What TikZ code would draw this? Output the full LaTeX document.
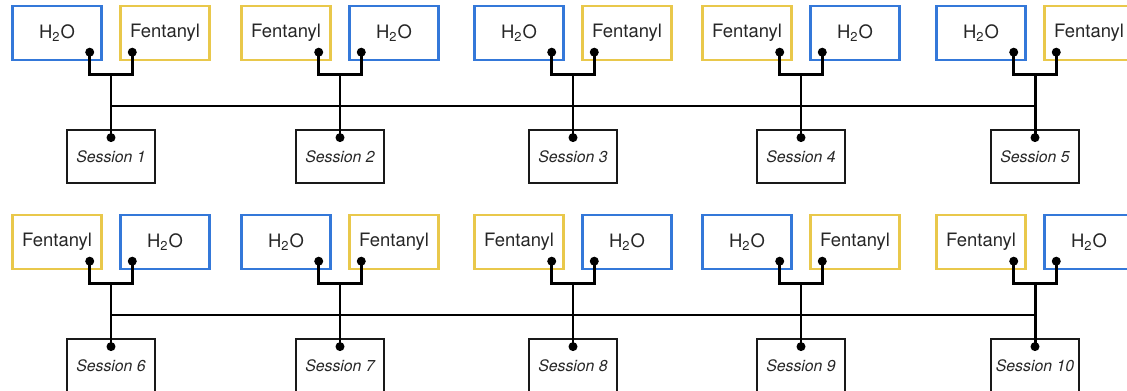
\documentclass[tikz,border=0pt]{standalone}
\usepackage{fontspec}
\setmainfont{TeX Gyre Heros}
\definecolor{h2oblue}{RGB}{52,120,217}
\definecolor{fentyellow}{RGB}{233,200,75}
\newcommand\wat{H\textsubscript{2}O}
\newcommand\fen{Fentanyl}
\begin{document}
\begin{tikzpicture}[x=0.02cm, y=0.02cm, line join=miter,
	drug/.style={draw, line width=1.4pt, minimum width=1.78cm, minimum height=1.08cm, inner sep=0pt, text=black!85, font=\fontsize{10.5}{12}\selectfont},
	h2o/.style={drug, draw=h2oblue},
	fent/.style={drug, draw=fentyellow},
	sess/.style={draw=black!90, line width=1.6pt, minimum width=1.76cm, minimum height=1.06cm, inner sep=0pt, text=black!85, font=\fontsize{9}{11}\selectfont\itshape},
	wire/.style={line width=1.7pt},
	bus/.style={line width=1.3pt}]
	\useasboundingbox (0,0) rectangle (1127,391);
	\clip (0,0) rectangle (1127,391);
	% one group per session: two boxes, branch, session box
	\foreach \n/\x/\y/\ls/\lt/\rs/\rt in {1/111/0/h2o/\wat/fent/\fen, 2/340/0/fent/\fen/h2o/\wat,
		3/573/0/h2o/\wat/fent/\fen, 4/801/0/fent/\fen/h2o/\wat, 5/1035/0/h2o/\wat/fent/\fen,
		6/111/209/fent/\fen/h2o/\wat, 7/340/209/h2o/\wat/fent/\fen, 8/573/209/fent/\fen/h2o/\wat,
		9/801/209/h2o/\wat/fent/\fen, 10/1035/209/fent/\fen/h2o/\wat}{
		\node[\ls] (L\n) at (\x-54,358-\y) {\lt};
		\node[\rs] (R\n) at (\x+54,358-\y) {\rt};
		\node[sess] (S\n) at (\x,234.5-\y) {Session \n};
		\coordinate (dl\n) at ([shift={(-13,9)}]L\n.south east);
		\coordinate (dr\n) at ([shift={(13,9)}]R\n.south west);
		\coordinate (ds\n) at ([shift={(0,-9)}]S\n.north);
		\coordinate (J\n) at (\x,316-\y);
		\coordinate (B\n) at (\x,285-\y);
		\draw[wire] (dl\n) |- (J\n) -| (dr\n);
		\draw[wire] (J\n) -- (ds\n);
		\fill (dl\n) circle (0.09cm) (dr\n) circle (0.09cm) (ds\n) circle (0.09cm);
	}
	\draw[bus] (B1) -- (B5);
	\draw[bus] (B6) -- (B10);
\end{tikzpicture}
\end{document}
